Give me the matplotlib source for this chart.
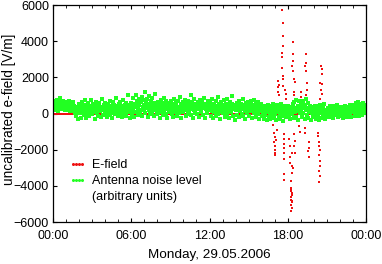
import numpy as np
import matplotlib
matplotlib.use("Agg")
import matplotlib.pyplot as plt
from matplotlib.lines import Line2D

plt.rcParams['font.family'] = ['Liberation Sans', 'DejaVu Sans']

# antenna noise level, one sample every 2.5 min, one row per hour
noise = [
    [520, 310, 680, 450, 220, 590, 380, 760, 470, 150, 640, 330, 540, 870, 410, 260, 600, 480, 350, 710, 430, 190, 560, 400],
    [620, 350, 480, 210, 530, 290, 700, 380, 160, 450, 540, 270, 610, 330, 120, 420, 250, 30, 380, -150, 240, 90, -280, 160],
    [500, 30, 360, -230, 230, 610, 90, 420, -100, 300, 730, 130, 470, -260, 260, 390, -20, 580, 170, -150, 340, 770, 60, 410],
    [-50, 280, 540, 100, 430, -290, 210, 660, 320, 20, 490, -130, 240, 600, 140, 380, -210, 290, 810, 190, -60, 450, 270, 80],
    [560, -10, 370, 180, -180, 500, 300, 110, 690, -100, 340, 220, -270, 430, 610, 40, 250, 470, -40, 170, 850, 90, 390, -150],
    [280, 530, -70, 210, 640, 30, 420, -200, 310, 730, 160, -30, 480, 240, -130, 570, 350, 80, 1000, 130, 450, -250, 300, 400],
    [600, 0, 430, 870, 210, -170, 530, 340, 1050, 110, 410, 670, -80, 260, 790, 480, 60, 620, 170, 930, -120, 360, 730, 240],
    [450, 1200, 30, 600, 330, 800, -200, 410, 220, 970, 530, -50, 690, 280, 90, 850, 400, 570, -150, 310, 1100, 190, 500, 0],
    [350, 50, 630, 470, -230, 240, 760, 390, 110, 570, 300, -100, 850, 180, 500, -10, 670, 410, -270, 330, 230, 600, 90, 450],
    [260, 710, -50, 530, 190, -200, 400, 830, 310, 60, 580, 440, -130, 220, 670, 350, 20, 900, 160, 510, -260, 380, 270, 630],
    [100, 460, 750, 290, -150, 570, 210, 410, -30, 690, 340, 130, 530, 1000, -90, 270, 610, 430, -230, 180, 790, 320, 40, 500],
    [380, -10, 660, 240, 540, -180, 320, 770, 190, 80, 450, 610, -90, 300, 870, 420, -270, 230, 550, 350, 20, 710, 170, 480],
    [240, 570, -110, 390, 160, 780, -250, 320, 500, 60, 230, 670, -160, 430, 190, 890, -20, 350, 550, -300, 280, 110, 620, 370],
    [10, 460, 290, 720, -180, 200, 540, 350, -50, 830, 150, 410, -270, 300, 630, 220, 80, 500, 960, -130, 260, 380, -340, 450],
    [340, 180, 600, -80, 430, 250, -220, 700, 310, 120, 520, 0, 370, 800, -160, 230, 480, 160, -310, 580, 290, 50, 410, 650],
    [210, -120, 530, 360, 140, 690, -240, 280, 460, 20, 740, 320, 110, -180, 570, 240, 400, -50, 620, 180, -290, 350, 500, 130],
    [180, -130, 350, 40, -280, 250, 430, -60, 120, -360, 300, 80, 470, -200, 160, 20, -310, 390, 210, -100, 260, 500, -240, 90],
    [-50, 320, 140, -380, 230, 450, 60, -170, 370, 10, -290, 190, 540, 100, -120, 280, -400, 160, 410, 30, -210, 350, 220, -80],
    [130, 420, -160, 290, 60, -330, 370, 180, -40, 500, 240, -250, 620, 90, 310, -180, 760, 150, 430, -380, 260, 680, 20, 350],
    [540, 120, -220, 380, 700, 40, 290, -300, 460, 170, 800, -100, 330, 580, -240, 210, 90, 420, -350, 250, 30, 360, -150, 160],
    [270, -190, 110, 390, -310, 200, 50, 430, -120, 310, -380, 150, 480, 20, -230, 260, 380, -60, 130, 500, -290, 220, 80, -160],
    [180, -50, 300, 110, -200, 240, 420, 20, -120, 330, 150, -260, 210, 60, 390, -90, 270, 130, -30, 450, -180, 230, 80, 340],
    [120, -150, 280, 40, 380, -240, 190, 310, 0, -110, 430, 160, 250, -200, 90, 350, -60, 220, 470, 30, -170, 300, 140, 260],
    [330, 60, 480, -120, 250, 560, 140, -30, 400, 220, 620, -160, 310, 90, 510, 180, -60, 440, 270, 580, 20, 360, 150, 490],
]

# e-field bursts (hour of day, V/m)
spike_t = [17.28, 17.30, 17.28, 17.25, 17.32, 16.95, 17.00, 16.98, 17.05, 17.00, 17.05, 17.10, 17.02, 16.90, 17.15,
           17.58, 17.61, 17.61, 17.63, 17.58, 17.58, 17.58, 17.65, 17.60, 17.70, 17.72, 17.70, 17.72, 17.75, 17.72,
           17.70, 17.72, 17.65, 17.80, 17.90, 17.85,
           18.30, 18.20, 18.30, 18.25, 18.27, 18.28, 18.30, 18.26, 18.28, 18.30, 18.27, 18.29, 18.28, 18.30, 18.25,
           18.32, 18.10, 18.15, 18.20, 18.35, 18.40, 18.43, 18.43, 18.43, 18.35, 18.43, 18.50, 18.55, 18.50, 18.45,
           18.60, 18.50, 18.55, 18.50, 18.52,
           19.40, 19.40, 19.35, 19.38, 19.45, 19.50, 19.40, 19.00, 19.05, 19.60, 19.62, 19.58, 19.60, 19.30, 19.30,
           18.90, 18.95,
           20.53, 20.65, 20.63, 20.50, 20.63, 20.55, 20.60, 20.50, 20.30, 20.35, 20.40, 20.42, 20.45, 20.40, 20.45,
           20.50, 20.42, 20.45, 20.40]
spike_v = [1825, 1600, 1440, 1200, 1000, -1050, -1300, -1600, -1800, -2000, -2160, -1440, -2270, -650, -900,
           5750, 4980, 4310, 3720, 3355, 3110, 2490, 2100, 1900, -1160, -1400, -1700, -1900, -2200, -2540,
           -3370, -3650, 1500, 1300, 1100, 800,
           -2175, -2730, -3280, -3740, -4100, -4300, -4500, -4600, -4760, -4920, -5050, -5200, -5400, -4400, -4200,
           -4850, -1400, -1800, -2400, -2900, -3000, 3965, 3300, 2890, 2615, 2340, 1935, 1730, 1200, 1000,
           700, -1160, -1500, -1800, -2160,
           3300, 2800, 2615, 2340, 1700, 1300, 1000, 1200, 900, -1600, -1900, -2100, -2380, -800, -1100,
           -700, -1000,
           2650, 2470, 2210, 1700, 1640, 1300, 1100, 800, -1050, -1250, -1600, -1800, -2000, -2300, -2600,
           -2900, -3200, -3450, -3760]

noise_v = np.array(noise).ravel()
t = np.arange(len(noise_v)) * 2.5 / 60.0  # hours

fig = plt.figure(figsize=(3.82, 2.64), dpi=100)
ax = fig.add_axes([0.139, 0.159, 0.819, 0.822])

red = '#ee1111'
green = '#22ff22'
ax.plot(t, np.zeros_like(t), 's', color=red, ms=1.7, mew=0)
ax.plot(spike_t, spike_v, 's', color=red, ms=1.8, mew=0)
ax.plot(t, noise_v, 's', color=green, ms=3.5, mew=0)

ax.set_xlim(0, 24)
ax.set_ylim(-6000, 6000)
ax.set_xticks([0, 6, 12, 18, 24])
ax.set_xticklabels(['00:00', '06:00', '12:00', '18:00', '00:00'])
ax.set_xticks(np.arange(0, 25, 1), minor=True)
ax.set_yticks(np.arange(-6000, 6001, 2000))
ax.tick_params(direction='in', top=True, right=True, labelsize=9, length=3, pad=3)
ax.tick_params(axis='x', pad=6)
ax.tick_params(which='minor', direction='in', top=True, length=2)
for s in ax.spines.values():
    s.set_linewidth(0.9)

ax.set_ylabel('uncalibrated e-field [V/m]', fontsize=9.8)
ax.yaxis.set_label_coords(-0.12, 0.52)
ax.set_xlabel('Monday, 29.05.2006', fontsize=9.7, labelpad=5)

handles = [Line2D([], [], ls='none', marker='o', color=red, ms=2.2, mew=0),
           Line2D([], [], ls='none', marker='o', color=green, ms=2.2, mew=0),
           Line2D([], [], ls='none')]
ax.legend(handles, ['E-field', 'Antenna noise level', '(arbitrary units)'],
          loc='lower left', bbox_to_anchor=(0.035, 0.065), frameon=False, numpoints=4,
          handlelength=1.3, handletextpad=0.5, labelspacing=0.3, fontsize=9,
          borderaxespad=0)

fig.savefig('out.png', dpi=100)
